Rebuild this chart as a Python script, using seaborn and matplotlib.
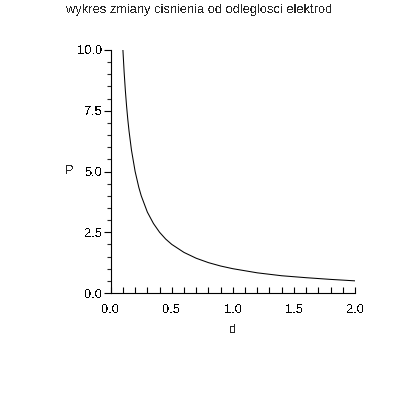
import matplotlib
matplotlib.use("Agg")
import matplotlib.pyplot as plt
from matplotlib.ticker import MultipleLocator
import seaborn as sns
import pandas as pd

# values
d_values = [0.10, 0.11, 0.12, 0.13, 0.14, 0.15, 0.17, 0.20, 0.23, 0.25, 0.30,
            0.35, 0.40, 0.45, 0.50, 0.60, 0.70, 0.80, 0.90, 1.00, 1.20, 1.40,
            1.60, 1.80, 2.00]
p_values = [10.0, 9.09, 8.33, 7.69, 7.14, 6.67, 5.88, 5.00, 4.35, 4.00, 3.33,
            2.86, 2.50, 2.22, 2.00, 1.67, 1.43, 1.25, 1.11, 1.00, 0.83, 0.71,
            0.63, 0.56, 0.50]
title_text = "wykres zmiany cisnienia od odleglosci elektrod"
x_label = "d"
y_label = "P"

df = pd.DataFrame({"d": d_values, "P": p_values})

sns.set_style("ticks")
plt.rcParams["font.family"] = ["Liberation Sans", "DejaVu Sans"]
plt.rcParams["text.antialiased"] = False

FS = 9.3
W = 398
fig = plt.figure(figsize=(3.98, 3.98), dpi=100)
ax = fig.add_axes([110.7 / W, 1 - 293 / W, (355 - 110.7) / W, (293 - 50) / W])

sns.lineplot(data=df, x="d", y="P", ax=ax, color="black", linewidth=0.75,
             sort=False)

ax.set_xlim(0, 2.0)
ax.set_ylim(0, 10.0)
ax.xaxis.set_major_locator(MultipleLocator(0.5))
ax.xaxis.set_minor_locator(MultipleLocator(0.1))
ax.yaxis.set_major_locator(MultipleLocator(2.5))
ax.yaxis.set_minor_locator(MultipleLocator(0.5))
ax.xaxis.set_major_formatter(matplotlib.ticker.FormatStrFormatter("%.1f"))
ax.yaxis.set_major_formatter(matplotlib.ticker.FormatStrFormatter("%.1f"))

ax.tick_params(axis="y", which="major", direction="out", length=5, width=0.8,
               pad=1, labelsize=FS, colors="black")
ax.tick_params(axis="y", which="minor", direction="out", length=3, width=0.8)
ax.tick_params(axis="x", which="both", direction="in", length=4, width=0.8,
               pad=8, labelsize=FS, colors="black")

sns.despine(ax=ax)
for s in ["left", "bottom"]:
    ax.spines[s].set_linewidth(0.8)
    ax.spines[s].set_color("black")

ax.set_xlabel(x_label, fontsize=FS, va="center")
ax.set_ylabel(y_label, fontsize=FS, rotation=0, ha="center", va="center")
ax.xaxis.set_label_coords(0.5, (293 - 330) / 243)
ax.yaxis.set_label_coords((69 - 110.7) / 244.3, 0.5)

fig.text(0.5, 1 - 10 / W, title_text, ha="center", va="center", fontsize=FS)

fig.savefig("out.png", dpi=100, facecolor="white")
